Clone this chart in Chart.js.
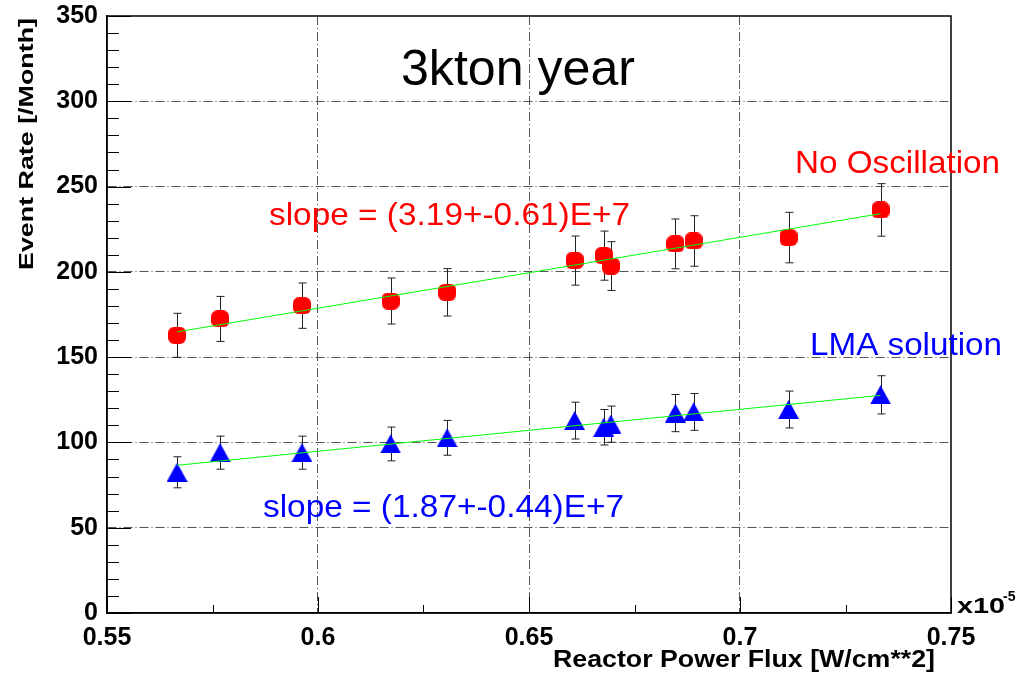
<!DOCTYPE html>
<html>
<head>
<meta charset="utf-8">
<script src="https://cdn.jsdelivr.net/npm/chart.js@4.4.1/dist/chart.umd.min.js"></script>
<style>
  html, body { margin: 0; padding: 0; background: #fff; }
</style>
</head>
<body>
<canvas id="fluxRate" width="1019" height="681"></canvas>
<script>
// reactor power flux (x10^-5 W/cm**2), one entry per month
const fluxValues = [0.5666, 0.5768, 0.5962, 0.6172, 0.6306, 0.6608, 0.6677, 0.6694, 0.6847, 0.6890, 0.7115, 0.7333];
const noOscRate = [162.8, 172.4, 180.2, 182.9, 188.0, 206.6, 209.5, 203.4, 216.4, 218.1, 220.1, 236.3];
const noOscErr = [12.9, 13.2, 13.3, 13.5, 13.9, 14.4, 14.4, 14.3, 14.6, 14.8, 14.8, 15.4];
const lmaRate = [82.5, 94.0, 94.0, 99.1, 102.7, 112.8, 108.9, 110.7, 117.2, 117.9, 119.3, 127.9];
const lmaErr = [9.1, 9.7, 9.7, 9.9, 10.2, 10.8, 10.4, 10.6, 10.9, 10.8, 10.8, 11.2];
// straight line fits, end points
const noOscFit = [[0.5666, 164.8], [0.7333, 234.1]];
const lmaFit = [[0.5666, 86.6], [0.7333, 127.6]];

const xTickLabels = ['0.55', '0.6', '0.65', '0.7', '0.75'];
const yTickLabels = ['0', '50', '100', '150', '200', '250', '300', '350'];

const FONT = "'Liberation Sans', Arial, Helvetica, sans-serif";

// ROOT-like markers
function blobMarker(color) {
  const c = document.createElement('canvas');
  c.width = 18; c.height = 17;
  const g = c.getContext('2d');
  g.fillStyle = color;
  g.beginPath();
  g.roundRect(0, 0, 18, 17, 6);
  g.fill();
  return c;
}
function triMarker(color) {
  const c = document.createElement('canvas');
  c.width = 21; c.height = 19;
  const g = c.getContext('2d');
  g.fillStyle = color;
  g.beginPath();
  g.moveTo(10.5, 0);
  g.lineTo(21, 19);
  g.lineTo(0, 19);
  g.closePath();
  g.fill();
  return c;
}

const toPts = (xs, ys) => xs.map((x, i) => ({ x, y: ys[i] }));

// stretched text helper (the original labels are a bit wider than the font)
function fitText(ctx, str, x, y, width) {
  const w = ctx.measureText(str).width;
  ctx.save();
  ctx.translate(x, y);
  ctx.scale(width / w, 1);
  ctx.textAlign = 'left';
  ctx.fillText(str, 0, 0);
  ctx.restore();
}

const errorBars = {
  id: 'errorBars',
  beforeDatasetsDraw(chart) {
    const { ctx, scales: { x, y } } = chart;
    ctx.save();
    ctx.strokeStyle = '#222';
    ctx.lineWidth = 1;
    [[noOscRate, noOscErr], [lmaRate, lmaErr]].forEach(([vals, errs]) => {
      vals.forEach((v, i) => {
        const px = Math.round(x.getPixelForValue(fluxValues[i])) + 0.5;
        const top = y.getPixelForValue(v + errs[i]);
        const bot = y.getPixelForValue(v - errs[i]);
        ctx.beginPath();
        ctx.moveTo(px, top); ctx.lineTo(px, bot);
        ctx.moveTo(px - 4, top); ctx.lineTo(px + 4, top);
        ctx.moveTo(px - 4, bot); ctx.lineTo(px + 4, bot);
        ctx.stroke();
      });
    });
    ctx.restore();
  }
};

const frameAndText = {
  id: 'frameAndText',
  afterDraw(chart) {
    const { ctx, chartArea: a, scales: { x, y } } = chart;
    ctx.save();
    // inner ticks
    ctx.strokeStyle = '#000';
    ctx.lineWidth = 1;
    ctx.beginPath();
    for (let v = 0; v <= 350; v += 10) {
      const py = Math.round(y.getPixelForValue(v)) + 0.5;
      ctx.moveTo(a.left, py);
      ctx.lineTo(a.left + (v % 50 === 0 ? 24 : 12), py);
    }
    for (let k = 0; k <= 8; k++) {
      const px = Math.round(x.getPixelForValue(0.55 + k * 0.025)) + 0.5;
      ctx.moveTo(px, a.bottom);
      ctx.lineTo(px, a.bottom - (k % 2 === 0 ? 16 : 8));
    }
    ctx.stroke();
    // frame
    ctx.lineWidth = 1.5;
    ctx.strokeRect(a.left, a.top, a.right - a.left, a.bottom - a.top);

    ctx.textBaseline = 'alphabetic';
    ctx.textAlign = 'left';
    ctx.fillStyle = '#000';
    ctx.font = `50px ${FONT}`;
    fitText(ctx, '3kton year', 401, 85, 234);

    ctx.font = `32px ${FONT}`;
    ctx.fillStyle = '#ff0000';
    fitText(ctx, 'No Oscillation', 795, 173, 205);
    fitText(ctx, 'slope = (3.19+-0.61)E+7', 269, 225, 361);
    ctx.fillStyle = '#0000ff';
    fitText(ctx, 'LMA solution', 810, 355, 192);
    fitText(ctx, 'slope = (1.87+-0.44)E+7', 263, 517, 361);

    // axis titles
    ctx.fillStyle = '#000';
    ctx.font = `bold 24px ${FONT}`;
    fitText(ctx, 'Reactor Power Flux [W/cm**2]', 553, 667, 382);
    ctx.save();
    ctx.translate(33, 270);
    ctx.rotate(-Math.PI / 2);
    ctx.font = `bold 20px ${FONT}`;
    fitText(ctx, 'Event Rate [/Month]', 0, 0, 252);
    ctx.restore();

    ctx.font = `bold 22px ${FONT}`;
    fitText(ctx, 'x10', 957, 613, 48);
    ctx.font = `bold 14px ${FONT}`;
    ctx.fillText('-5', 1003, 601);
    ctx.restore();
  }
};

const tickFont = { family: FONT, size: 25, weight: 'bold' };
const gridColor = (ctx) => {
  const s = ctx.scale;
  const v = ctx.tick ? ctx.tick.value : null;
  return (v === s.min || v === s.max) ? 'rgba(0,0,0,0)' : '#555';
};

const data = {
  datasets: [
    {
      label: 'No Oscillation fit',
      type: 'line',
      data: noOscFit.map(([x, y]) => ({ x, y })),
      borderColor: '#00ff00',
      borderWidth: 1,
      pointRadius: 0,
      fill: false,
      order: 0,
    },
    {
      label: 'LMA fit',
      type: 'line',
      data: lmaFit.map(([x, y]) => ({ x, y })),
      borderColor: '#00ff00',
      borderWidth: 1,
      pointRadius: 0,
      fill: false,
      order: 0,
    },
    {
      label: 'No Oscillation',
      data: toPts(fluxValues, noOscRate),
      pointStyle: blobMarker('#ff0000'),
      order: 1,
    },
    {
      label: 'LMA solution',
      data: toPts(fluxValues, lmaRate),
      pointStyle: triMarker('#0000ff'),
      order: 1,
    },
  ],
};

const options = {
  responsive: false,
  animation: false,
  devicePixelRatio: 1,
  layout: { padding: { top: 16, right: 68, left: 0, bottom: 0 } },
  plugins: { legend: { display: false }, tooltip: { enabled: false } },
  scales: {
    x: {
      type: 'linear',
      min: 0.55,
      max: 0.75,
      afterFit: (s) => { s.height = 68; s.paddingLeft = 0; s.paddingRight = 0; },
      afterBuildTicks: (s) => { s.ticks = xTickLabels.map((t) => ({ value: +t })); },
      ticks: {
        callback: (v, i) => xTickLabels[i],
        font: tickFont,
        color: '#000',
        padding: 10,
        maxRotation: 0,
        autoSkip: false,
      },
      grid: { color: gridColor, drawTicks: false, lineWidth: 1 },
      border: { display: true, color: '#000', width: 1.5, dash: [9, 3, 1, 3] },
    },
    y: {
      type: 'linear',
      min: 0,
      max: 350,
      afterFit: (s) => { s.width = 107; s.paddingTop = 0; s.paddingBottom = 0; },
      afterBuildTicks: (s) => { s.ticks = yTickLabels.map((t) => ({ value: +t })); },
      ticks: {
        callback: (v, i) => yTickLabels[i],
        font: tickFont,
        color: '#000',
        padding: 9,
        autoSkip: false,
      },
      grid: { color: gridColor, drawTicks: false, lineWidth: 1 },
      border: { display: true, color: '#000', width: 1.5, dash: [9, 3, 1, 3] },
    },
  },
};

new Chart(document.getElementById('fluxRate'), {
  type: 'scatter',
  data,
  options,
  plugins: [errorBars, frameAndText],
});
</script>
</body>
</html>
